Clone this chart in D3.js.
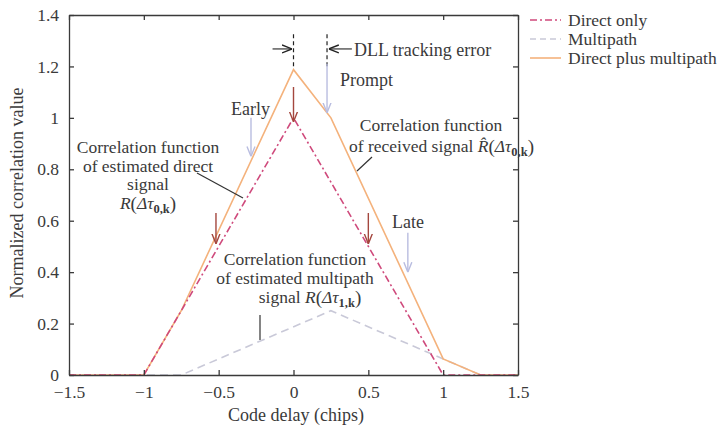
<!DOCTYPE html>
<html>
<head>
<meta charset="utf-8">
<script src="https://cdn.jsdelivr.net/npm/d3@7"></script>
<style>
  html, body { margin: 0; padding: 0; background: #fff; }
  svg { display: block; }
  text { font-family: "Liberation Serif", "DejaVu Serif", serif; fill: #3a3a3a; }
</style>
</head>
<body>
<svg id="chart" width="721" height="425"></svg>
<script>
// ---- data ----
const directX = [-1.5, -1, 0, 1, 1.5];
const directY = [0, 0, 1, 0, 0];
const multiX = [-1.5, -0.75, 0.25, 1.25, 1.5];
const multiY = [0, 0, 0.25, 0, 0];
const sumX = [-1.5, -1, -0.75, 0, 0.25, 1, 1.25, 1.5];
const sumY = [0, 0, 0.25, 1.1875, 1.0, 0.0625, 0, 0];
const xTicks = [-1.5, -1, -0.5, 0, 0.5, 1, 1.5];
const yTicks = [0, 0.2, 0.4, 0.6, 0.8, 1, 1.2, 1.4];
const seriesNames = ["Direct only", "Multipath", "Direct plus multipath"];

const FS = "18px", FB = "17.5px";
const svg = d3.select("#chart");
const x = d3.scaleLinear().domain([-1.5, 1.5]).range([69, 518]);
const y = d3.scaleLinear().domain([0, 1.4]).range([375, 15]);

const axisColor = "#3a3a3a";
const cDirect = "#cf4a7c", cMulti = "#c9c9d8", cSum = "#f4b27c";
const cRed = "#a4473e", cLav = "#b9bde0";

// defs for arrowheads
const defs = svg.append("defs");
function marker(id, color) {
  defs.append("marker").attr("id", id).attr("viewBox", "0 0 10 10")
    .attr("refX", 10).attr("refY", 5).attr("markerWidth", 10).attr("markerHeight", 10)
    .attr("markerUnits", "userSpaceOnUse").attr("orient", "auto")
    .append("path").attr("d", "M0,1 L10,5 L0,9").attr("fill", "none")
    .attr("stroke", color).attr("stroke-width", 1.4);
}
marker("aRed", cRed); marker("aLav", cLav); marker("aBlk", "#222");

// ---- lines ----
const line = d3.line().x(d => x(d[0])).y(d => y(d[1]));
const zip = (a, b) => a.map((v, i) => [v, b[i]]);

svg.append("path").datum(zip(multiX, multiY)).attr("d", line)
  .attr("fill", "none").attr("stroke", cMulti).attr("stroke-width", 1.6)
  .attr("stroke-dasharray", "8,5");
svg.append("path").datum(zip(sumX, sumY)).attr("d", line)
  .attr("fill", "none").attr("stroke", cSum).attr("stroke-width", 1.6);
svg.append("path").datum(zip(directX, directY)).attr("d", line)
  .attr("fill", "none").attr("stroke", cDirect).attr("stroke-width", 1.6)
  .attr("stroke-dasharray", "7,3,2,3");

// ---- axes ----
const fmt = d3.format("~g");
function styleAxis(g) {
  g.selectAll("path, line").attr("stroke", axisColor).attr("stroke-width", 1.3);
  g.selectAll("text").attr("fill", "#3a3a3a")
    .style("font-family", '"Liberation Serif", serif').style("font-size", "17.5px");
}
svg.append("g").attr("transform", `translate(0,${y(0)})`)
  .call(d3.axisBottom(x).tickValues(xTicks).tickFormat(fmt).tickSizeInner(-5).tickSizeOuter(0).tickPadding(11))
  .call(styleAxis);
svg.append("g").attr("transform", `translate(${x(-1.5)},0)`)
  .call(d3.axisLeft(y).tickValues(yTicks).tickFormat(fmt).tickSizeInner(-5).tickSizeOuter(0).tickPadding(10))
  .call(styleAxis);
svg.append("g").attr("transform", `translate(0,${y(1.4)})`)
  .call(d3.axisTop(x).tickValues(xTicks).tickFormat("").tickSizeInner(-5).tickSizeOuter(0))
  .call(styleAxis);
svg.append("g").attr("transform", `translate(${x(1.5)},0)`)
  .call(d3.axisRight(y).tickValues(yTicks).tickFormat("").tickSizeInner(-5).tickSizeOuter(0))
  .call(styleAxis);

// axis titles
svg.append("text").attr("x", 296).attr("y", 421).attr("text-anchor", "middle")
  .style("font-size", FS).text("Code delay (chips)");
svg.append("text").attr("transform", "translate(23,193) rotate(-90)").attr("text-anchor", "middle")
  .style("font-size", FS).text("Normalized correlation value");

// ---- legend ----
const legColors = [cDirect, cMulti, cSum];
const legDash = ["7,3,2,3", "6,4", null];
seriesNames.forEach((n, i) => {
  const yy = 20 + i * 19;
  svg.append("line").attr("x1", 530).attr("x2", 561).attr("y1", yy).attr("y2", yy)
    .attr("stroke", legColors[i]).attr("stroke-width", 1.6)
    .attr("stroke-dasharray", legDash[i]);
  svg.append("text").attr("x", 568).attr("y", yy + 5.5).style("font-size", FB).text(n);
});

// ---- annotations ----
function arrow(x1, y1, x2, y2, color, mk, w) {
  svg.append("line").attr("x1", x(x1)).attr("y1", y(y1)).attr("x2", x(x2)).attr("y2", y(y2))
    .attr("stroke", color).attr("stroke-width", w || 1.4).attr("marker-end", `url(#${mk})`);
}
// DLL tracking error
[0, 0.224].forEach(v => {
  svg.append("line").attr("x1", x(v)).attr("x2", x(v)).attr("y1", y(1.325)).attr("y2", y(1.2))
    .attr("stroke", "#222").attr("stroke-width", 1.2).attr("stroke-dasharray", "4,3");
});
arrow(-0.14, 1.268, -0.01, 1.268, "#222", "aBlk", 1.1);
arrow(0.39, 1.268, 0.236, 1.268, "#222", "aBlk", 1.1);
svg.append("text").attr("x", 354).attr("y", 56).style("font-size", FS).text("DLL tracking error");

// Prompt / Early / Late (lavender)
arrow(0.224, 1.21, 0.224, 1.02, cLav, "aLav");
svg.append("text").attr("x", 340).attr("y", 86).style("font-size", FS).text("Prompt");
arrow(-0.284, 1.0, -0.284, 0.85, cLav, "aLav");
svg.append("text").attr("x", 231).attr("y", 115).style("font-size", FS).text("Early");
arrow(0.764, 0.553, 0.764, 0.40, cLav, "aLav");
svg.append("text").attr("x", 392).attr("y", 228).style("font-size", FS).text("Late");

// dark red arrows
arrow(0, 1.12, 0, 0.985, cRed, "aRed");
arrow(-0.518, 0.63, -0.518, 0.51, cRed, "aRed");
arrow(0.5, 0.63, 0.5, 0.51, cRed, "aRed");

// text blocks with math
function mathLabel(sel, hat, sub) {
  sel.append("tspan").style("font-style", "italic").text(hat ? "R\u0302" : "R");
  sel.append("tspan").style("font-size", "19px").attr("dy", 1).text("(");
  sel.append("tspan").style("font-style", "italic").attr("dy", -1).text("\u0394\u03c4");
  sel.append("tspan").style("font-size", "12.5px").style("font-weight", "bold").attr("dy", 4).text(sub);
  sel.append("tspan").style("font-size", "19px").attr("dy", -3).text(")");
}
function block(lines, cx, y0, dy) {
  lines.forEach((l, i) => {
    const t = svg.append("text").attr("x", cx).attr("y", y0 + i * dy)
      .attr("text-anchor", "middle").style("font-size", FB);
    if (typeof l === "string") t.text(l); else l(t);
  });
}
block(["Correlation function", "of estimated direct", "signal",
  t => mathLabel(t, false, "0,k")], 148, 153, 18.5);
svg.append("line").attr("x1", 197).attr("y1", 173).attr("x2", 243).attr("y2", 198)
  .attr("stroke", "#333").attr("stroke-width", 1.2);

block(["Correlation function"], 431, 131, 0);
const t2 = svg.append("text").attr("x", 349).attr("y", 152).style("font-size", FB);
t2.append("tspan").text("of received signal ");
mathLabel(t2, true, "0,k");
svg.append("line").attr("x1", 372).attr("y1", 157).attr("x2", 357).attr("y2", 171)
  .attr("stroke", "#333").attr("stroke-width", 1.2);

block(["Correlation function", "of estimated multipath"], 295, 265, 18.5);
const t3 = svg.append("text").attr("x", 310).attr("y", 303).attr("text-anchor", "middle").style("font-size", FB);
t3.append("tspan").text("signal ");
mathLabel(t3, false, "1,k");
svg.append("line").attr("x1", 260).attr("y1", 315).attr("x2", 260).attr("y2", 340)
  .attr("stroke", "#333").attr("stroke-width", 1.2);
</script>
</body>
</html>
